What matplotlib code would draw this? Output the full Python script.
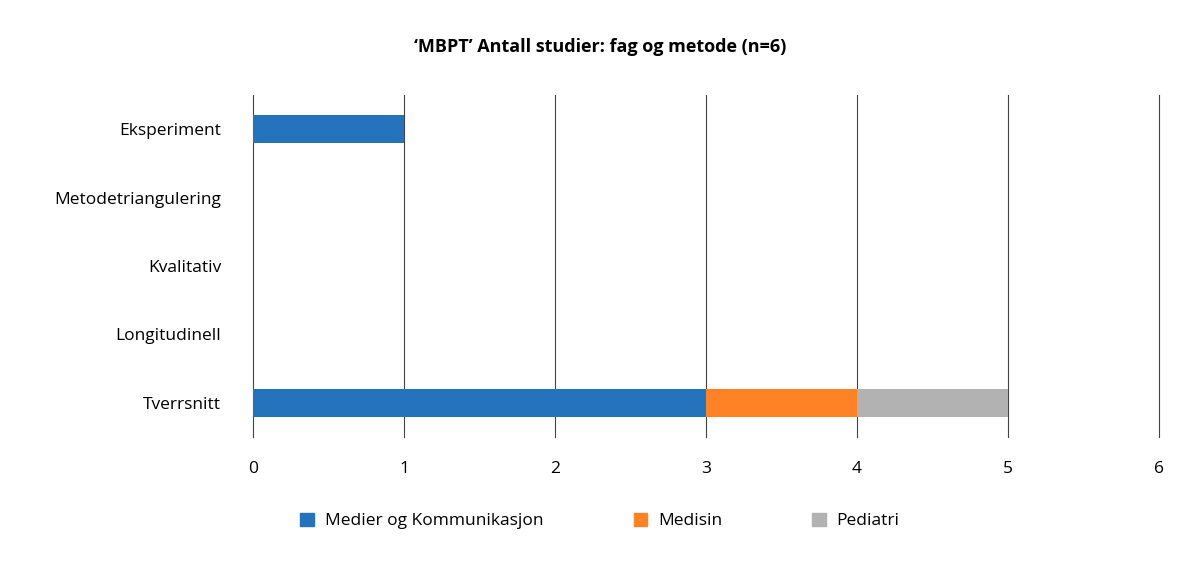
import matplotlib
matplotlib.use("Agg")
import matplotlib.pyplot as plt
import numpy as np

categories = ["Eksperiment", "Metodetriangulering", "Kvalitativ", "Longitudinell", "Tverrsnitt"]
series_names = ["Medier og Kommunikasjon", "Medisin", "Pediatri"]
medier = [1, 0, 0, 0, 3]
medisin = [0, 0, 0, 0, 1]
pediatri = [0, 0, 0, 0, 1]
colors = ["#2572bd", "#ff8326", "#b2b2b2"]
title = "‘MBPT’ Antall studier: fag og metode (n=6)"

plt.rcParams['font.family'] = ['Open Sans', 'DejaVu Sans']

fig = plt.figure(figsize=(12, 5.69), dpi=100)
ax = fig.add_axes([253/1200, 1-437/569, (1159-253)/1200, (437-95)/569])

y = np.arange(len(categories))
left = np.zeros(len(categories))
for vals, name, c in zip([medier, medisin, pediatri], series_names, colors):
    ax.barh(y, vals, left=left, height=0.41, color=c, label=name, zorder=2)
    left += np.array(vals)

ax.set_xlim(0, 6)
ax.set_ylim(len(categories) - 0.5, -0.5)
ax.set_yticks(y)
ax.set_yticklabels(categories, fontsize=12.5)
ax.set_xticks(range(7))
ax.set_xticklabels([str(i) for i in range(7)], fontsize=12.5)
ax.tick_params(axis='both', length=0)
ax.tick_params(axis='y', pad=23)
ax.tick_params(axis='x', pad=17)
for s in ax.spines.values():
    s.set_visible(False)
ax.grid(axis='x', color='#444444', linewidth=0.8, zorder=0)
ax.set_axisbelow(True)
for gl in ax.get_xgridlines():
    gl.set_clip_on(False)

fig.text(0.5, 1-47/569, title, ha='center', va='center', fontsize=13, fontweight='bold')

handles = [plt.Rectangle((0, 0), 1, 1, color=c) for c in colors]
fig.legend(handles, series_names, loc='center', bbox_to_anchor=(0.5, 1-521/569),
           ncol=3, frameon=False, fontsize=12.5, handlelength=0.8, handleheight=0.8,
           handletextpad=0.6, columnspacing=5.2)

fig.savefig("out.png", dpi=100)
